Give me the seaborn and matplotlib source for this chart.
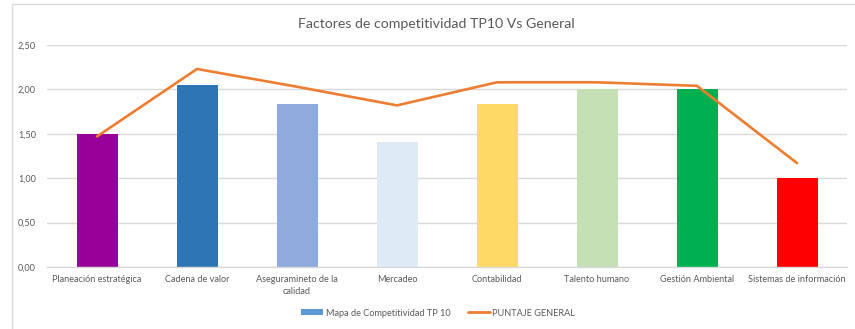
import matplotlib
matplotlib.use("Agg")
import matplotlib.pyplot as plt
from matplotlib.lines import Line2D
from matplotlib.patches import Patch
from matplotlib.ticker import FuncFormatter, MultipleLocator
import seaborn as sns
import pandas as pd

categorias = [
    "Planeación estratégica",
    "Cadena de valor",
    "Aseguramineto de la\ncalidad",
    "Mercadeo",
    "Contabilidad",
    "Talento humano",
    "Gestión Ambiental",
    "Sistemas de información",
]
mapa_tp10 = [1.50, 2.05, 1.83, 1.41, 1.83, 2.00, 2.00, 1.00]
puntaje_general = [1.47, 2.23, 2.03, 1.82, 2.08, 2.08, 2.04, 1.17]
colores = ["#990099", "#2E75B6", "#8FAADC", "#DEEBF7",
           "#FFD966", "#C5E0B4", "#00B050", "#FF0000"]

sns.set_theme(style="white")
plt.rcParams["font.family"] = ["Lato", "DejaVu Sans"]

df = pd.DataFrame({"categoria": categorias, "mapa": mapa_tp10,
                   "general": puntaje_general})

fig = plt.figure(figsize=(8.55, 3.29), dpi=100)
ax = fig.add_axes([47 / 855, 1 - 267 / 329, 800 / 855, 222 / 329])

sns.barplot(data=df, x="categoria", y="mapa", hue="categoria",
            palette=colores, width=0.41, legend=False, ax=ax,
            saturation=1, linewidth=0, edgecolor="none")
sns.lineplot(data=df, x="categoria", y="general", color="#ED7D31",
             linewidth=1.9, ax=ax, sort=False)

ax.set_ylim(0, 2.5)
ax.set_xlim(-0.5, 7.5)
ax.yaxis.set_major_locator(MultipleLocator(0.5))
ax.yaxis.set_major_formatter(FuncFormatter(lambda v, p: f"{v:.2f}".replace(".", ",")))
ax.grid(axis="y", color="#D9D9D9", linewidth=1)
ax.set_axisbelow(True)
for s in ["top", "right", "left"]:
    ax.spines[s].set_visible(False)
ax.spines["bottom"].set_color("#D9D9D9")
ax.spines["bottom"].set_linewidth(1)
ax.set_xlabel("")
ax.set_ylabel("")
ax.tick_params(axis="both", length=0, labelsize=6.6, labelcolor="#595959")
ax.tick_params(axis="y", pad=8)
ax.tick_params(axis="x", pad=6)
for lbl in ax.get_xticklabels():
    lbl.set_linespacing(1.4)

fig.text(436 / 855, 1 - 24 / 329, "Factores de competitividad TP10 Vs General",
         ha="center", va="center", fontsize=10.2, color="#595959")

handles = [Patch(facecolor="#5B9BD5", edgecolor="none"),
           Line2D([0], [0], color="#ED7D31", linewidth=2)]
fig.legend(handles, ["Mapa de Competitividad TP 10", "PUNTAJE GENERAL"],
           loc="center", bbox_to_anchor=(438 / 855, 1 - 313 / 329), ncol=2,
           frameon=False, fontsize=6.6, labelcolor="#595959",
           handlelength=2.4, handleheight=0.6, columnspacing=1.9,
           handletextpad=0.3)

# chart frame
fig.add_artist(Line2D([12 / 855, 12 / 855], [0, 1 - 4 / 329],
                      color="#D9D9D9", linewidth=1, transform=fig.transFigure))
fig.add_artist(Line2D([12 / 855, 1], [1 - 4 / 329, 1 - 4 / 329],
                      color="#D9D9D9", linewidth=1, transform=fig.transFigure))

fig.savefig("out.png", dpi=100)
